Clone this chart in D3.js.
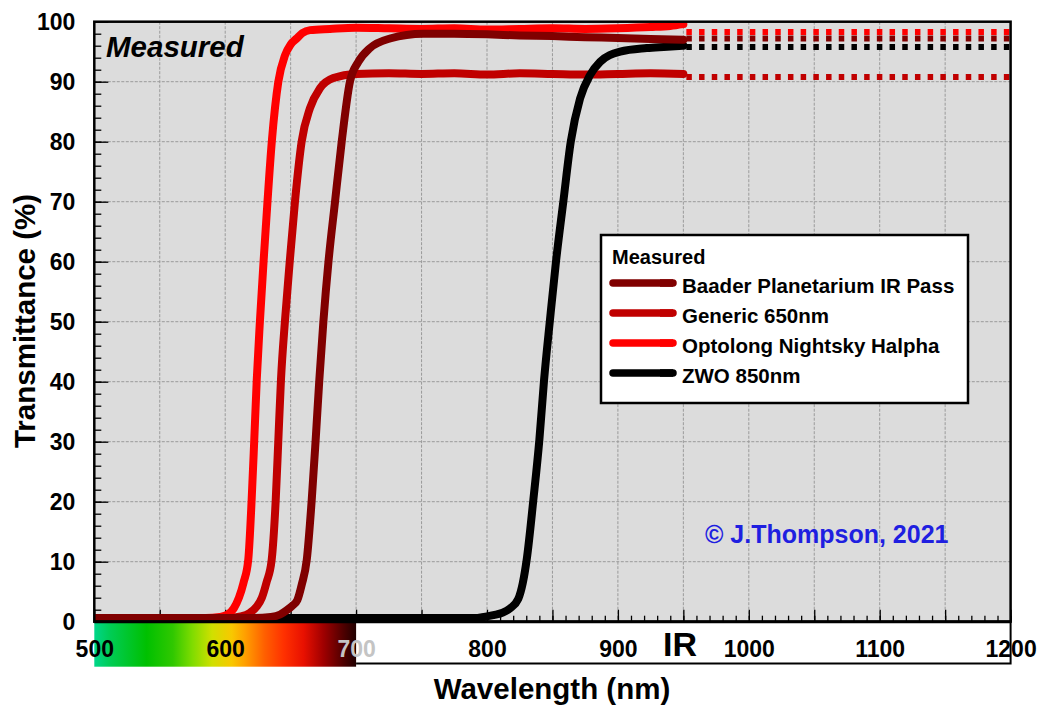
<!DOCTYPE html>
<html><head><meta charset="utf-8">
<script src="https://cdn.jsdelivr.net/npm/d3@7"></script>
<style>
body{margin:0;background:#fff}
svg{display:block}
text{font-family:"Liberation Sans",Arial,Helvetica,sans-serif}
</style>
</head><body>
<svg id="chart" width="1042" height="705"></svg>
<script>
// ---------- data ----------
const seriesNames = ["Baader Planetarium IR Pass", "Generic 650nm", "Optolong Nightsky Halpha", "ZWO 850nm"];
const seriesColors = ["#800000", "#c00000", "#ff0000", "#000000"];

const baaderNm = [500, 620, 635, 642, 647, 651, 655.1, 658.5, 662.3, 666.1, 669.1, 671.9, 675.0, 678.9, 683.9, 689, 695.3, 701.7, 710.6, 725.9, 751.3, 775, 800, 825, 850, 875, 900, 925, 950];
const baaderT  = [0.6, 0.6, 0.8, 1.2, 1.9, 2.6, 3.6, 6.2, 10.3, 20.3, 30.3, 40.3, 50, 60, 70, 80, 90, 93.3, 95.6, 97.2, 98.0, 98.0, 97.9, 97.7, 97.6, 97.4, 97.3, 97.1, 97.0];

const genericNm = [500, 600, 612, 619, 624, 628, 631.5, 635.5, 638.6, 640.6, 642.6, 645.6, 649.3, 653.3, 658.4, 664.8, 672.4, 682.6, 700, 725, 750, 775, 800, 825, 850, 875, 900, 925, 950];
const genericT  = [0.6, 0.6, 0.9, 1.5, 2.5, 4.0, 6.5, 10.3, 20.3, 30.3, 40.3, 50, 60, 70, 80, 85.6, 88.9, 90.6, 91.3, 91.4, 91.3, 91.4, 91.2, 91.4, 91.3, 91.2, 91.3, 91.4, 91.3];

const optolongNm = [500, 585, 596, 602, 606.5, 610.5, 614, 617.6, 620.2, 622.2, 624.1, 626.5, 629.3, 632.3, 635.6, 640.6, 645.7, 650, 654.6, 659, 664.8, 680, 700, 725, 750, 775, 800, 825, 850, 875, 900, 925, 940, 950];
const optolongT  = [0.6, 0.6, 0.8, 1.2, 2.2, 4.0, 6.5, 10.3, 20.3, 30.3, 40.3, 50, 60, 70, 80, 90, 94.4, 96.2, 97.2, 98.1, 98.6, 98.8, 99.0, 98.9, 98.8, 98.9, 98.7, 98.8, 98.9, 98.8, 98.9, 99.1, 99.3, 99.6];

const zwoNm = [500, 790, 805, 812, 817.5, 823.9, 827.3, 830.3, 835.4, 840, 843.6, 848.1, 852.7, 858.3, 864, 871.1, 878.7, 886.4, 901.7, 922, 935, 950];
const zwoT  = [0.6, 0.6, 1.1, 1.5, 2.2, 3.8, 6.4, 10.3, 20.3, 30.3, 40.3, 50.3, 60, 70, 80, 87.2, 91.1, 93.3, 95, 95.6, 95.8, 96];

// extrapolated (dotted) levels from 950 to 1200 nm, legend order
const dottedNm = [950, 1200];
const dottedLevels = [97.2, 90.8, 98.3, 95.8];

const xTickLabels = [500, 600, 700, 800, 900, 1000, 1100, 1200];
const yTickLabels = [0, 10, 20, 30, 40, 50, 60, 70, 80, 90, 100];

// colour band under the visible range (nm, colour)
const bandNm     = [500, 512, 540, 560, 575, 590, 605, 615, 630, 645, 660, 675, 690, 700];
const bandColors = ["#00d68a", "#00cc55", "#00c000", "#30c800", "#80dc00", "#d0e000", "#f8c800", "#ffa000", "#ff6000", "#ff3000", "#e81000", "#a00000", "#500000", "#200000"];

// ---------- layout ----------
const svg = d3.select("#chart");
const L = 94.3, R = 1010.6, T = 21.7, B = 621.7;
const x = d3.scaleLinear().domain([500, 1200]).range([L, R]);
const y = d3.scaleLinear().domain([0, 100]).range([B, T]);

const series = [
  {nm: baaderNm, t: baaderT},
  {nm: genericNm, t: genericT},
  {nm: optolongNm, t: optolongT},
  {nm: zwoNm, t: zwoT}
].map((s, i) => ({name: seriesNames[i], color: seriesColors[i], level: dottedLevels[i],
  pts: s.nm.map((n, j) => [n, s.t[j]])}));

// background
svg.append("rect").attr("x", L).attr("y", T).attr("width", R - L).attr("height", B - T).attr("fill", "#dcdcdc");

// grid
const grid = svg.append("g").attr("stroke", "#9a9a9a").attr("stroke-width", 1).attr("stroke-dasharray", "3,1.5");
grid.selectAll("line.v").data(d3.range(550, 1200, 50)).join("line")
  .attr("x1", d => x(d)).attr("x2", d => x(d)).attr("y1", T).attr("y2", B);
grid.selectAll("line.h").data(d3.range(10, 100, 10)).join("line")
  .attr("x1", L).attr("x2", R).attr("y1", d => y(d)).attr("y2", d => y(d));

// clip
svg.append("clipPath").attr("id", "clip").append("rect")
  .attr("x", L).attr("y", T).attr("width", R - L).attr("height", B - T);

// ticks (inward)
const tk = svg.append("g");
tk.append("g").attr("transform", `translate(${L},0)`)
  .call(d3.axisLeft(y).tickValues(d3.range(0, 101, 2)).tickSize(-7).tickFormat(""));
tk.append("g").attr("transform", `translate(${L},0)`)
  .call(d3.axisLeft(y).tickValues(d3.range(0, 101, 10)).tickSize(-14).tickFormat(""));
tk.append("g").attr("transform", `translate(0,${B})`)
  .call(d3.axisBottom(x).tickValues(d3.range(500, 1201, 10)).tickSize(-6).tickFormat(""));
tk.append("g").attr("transform", `translate(0,${B})`)
  .call(d3.axisBottom(x).tickValues(d3.range(500, 1201, 50)).tickSize(-12).tickFormat(""));
tk.selectAll(".domain").remove();
tk.selectAll(".tick line").attr("stroke", "#000").attr("stroke-width", 1.3);

// curves
const line = d3.line().x(d => x(d[0])).y(d => y(d[1])).curve(d3.curveMonotoneX);
const plotG = svg.append("g").attr("clip-path", "url(#clip)");
const drawOrder = [1, 3, 2, 0];
drawOrder.forEach(i => {
  const s = series[i];
  plotG.append("path").datum(s.pts).attr("d", line)
    .attr("fill", "none").attr("stroke", s.color).attr("stroke-width", 8)
    .attr("stroke-linejoin", "round").attr("stroke-linecap", "round");
});
drawOrder.forEach(i => {
  const s = series[i];
  plotG.append("path").datum(dottedNm.map(n => [n, s.level])).attr("d", line)
    .attr("fill", "none").attr("stroke", s.color).attr("stroke-width", 6)
    .attr("stroke-dasharray", "5.5,7.2").attr("stroke-dashoffset", -3);
});

// plot border
svg.append("rect").attr("x", L).attr("y", T).attr("width", R - L).attr("height", B - T)
  .attr("fill", "none").attr("stroke", "#000").attr("stroke-width", 2.5);

// colour band + IR box
const grad = svg.append("defs").append("linearGradient").attr("id", "band")
  .attr("x1", "0%").attr("x2", "100%").attr("y1", "0%").attr("y2", "0%");
grad.selectAll("stop").data(bandNm).join("stop")
  .attr("offset", d => ((d - 500) / 200 * 100) + "%")
  .attr("stop-color", (d, i) => bandColors[i]);
svg.append("rect").attr("x", x(500)).attr("y", B + 1).attr("width", x(700) - x(500)).attr("height", 44)
  .attr("fill", "url(#band)");
svg.append("path")
  .attr("d", `M${x(700)},${663.5}H${x(1200)}V${B}`)
  .attr("fill", "none").attr("stroke", "#000").attr("stroke-width", 2);
svg.append("line").attr("x1", L).attr("x2", R).attr("y1", B).attr("y2", B)
  .attr("stroke", "#000").attr("stroke-width", 3);

// tick labels
const xl = svg.append("g").attr("transform", `translate(0,${B})`)
  .call(d3.axisBottom(x).tickValues(xTickLabels).tickSize(0).tickPadding(19).tickFormat(d3.format("d")));
xl.select(".domain").remove();
xl.selectAll("text").attr("font-size", 23).attr("font-weight", "bold")
  .attr("font-family", "'Liberation Sans',Arial,sans-serif")
  .attr("fill", d => d === 700 ? "#c4c4c4" : "#000");

const yl = svg.append("g").attr("transform", `translate(${L},0)`)
  .call(d3.axisLeft(y).tickValues(yTickLabels).tickSize(0).tickPadding(19).tickFormat(d3.format("d")));
yl.select(".domain").remove();
yl.selectAll("text").attr("font-size", 23).attr("font-weight", "bold")
  .attr("font-family", "'Liberation Sans',Arial,sans-serif").attr("fill", "#000");

// titles & annotations
svg.append("text").attr("x", 552).attr("y", 699).attr("text-anchor", "middle")
  .attr("font-size", 29.5).attr("font-weight", "bold").text("Wavelength (nm)");
svg.append("text").attr("transform", "translate(35,321) rotate(-90)").attr("text-anchor", "middle")
  .attr("font-size", 29.5).attr("font-weight", "bold").text("Transmittance (%)");
svg.append("text").attr("x", 106).attr("y", 57).attr("font-size", 29.5)
  .attr("font-weight", "bold").attr("font-style", "italic").text("Measured");
svg.append("text").attr("x", 663).attr("y", 656).attr("font-size", 34)
  .attr("font-weight", "bold").text("IR");
svg.append("text").attr("x", 705).attr("y", 543).attr("font-size", 25)
  .attr("font-weight", "bold").attr("fill", "#1f1fe0").text("© J.Thompson, 2021");

// legend
const lg = svg.append("g");
lg.append("rect").attr("x", 601).attr("y", 235).attr("width", 367).attr("height", 168)
  .attr("fill", "#fff").attr("stroke", "#000").attr("stroke-width", 2.5);
lg.append("text").attr("x", 612).attr("y", 264).attr("font-size", 20).attr("font-weight", "bold").text("Measured");
series.forEach((s, i) => {
  const yy = 283 + i * 30;
  lg.append("line").attr("x1", 613).attr("x2", 673).attr("y1", yy).attr("y2", yy)
    .attr("stroke", s.color).attr("stroke-width", 7.5).attr("stroke-linecap", "round");
  lg.append("line").attr("x1", 660).attr("x2", 673).attr("y1", yy).attr("y2", yy)
    .attr("stroke", s.color).attr("stroke-width", 7.5);
  lg.append("text").attr("x", 682).attr("y", yy + 10).attr("font-size", 20.5)
    .attr("font-weight", "bold").text(s.name);
});
</script>
</body></html>
